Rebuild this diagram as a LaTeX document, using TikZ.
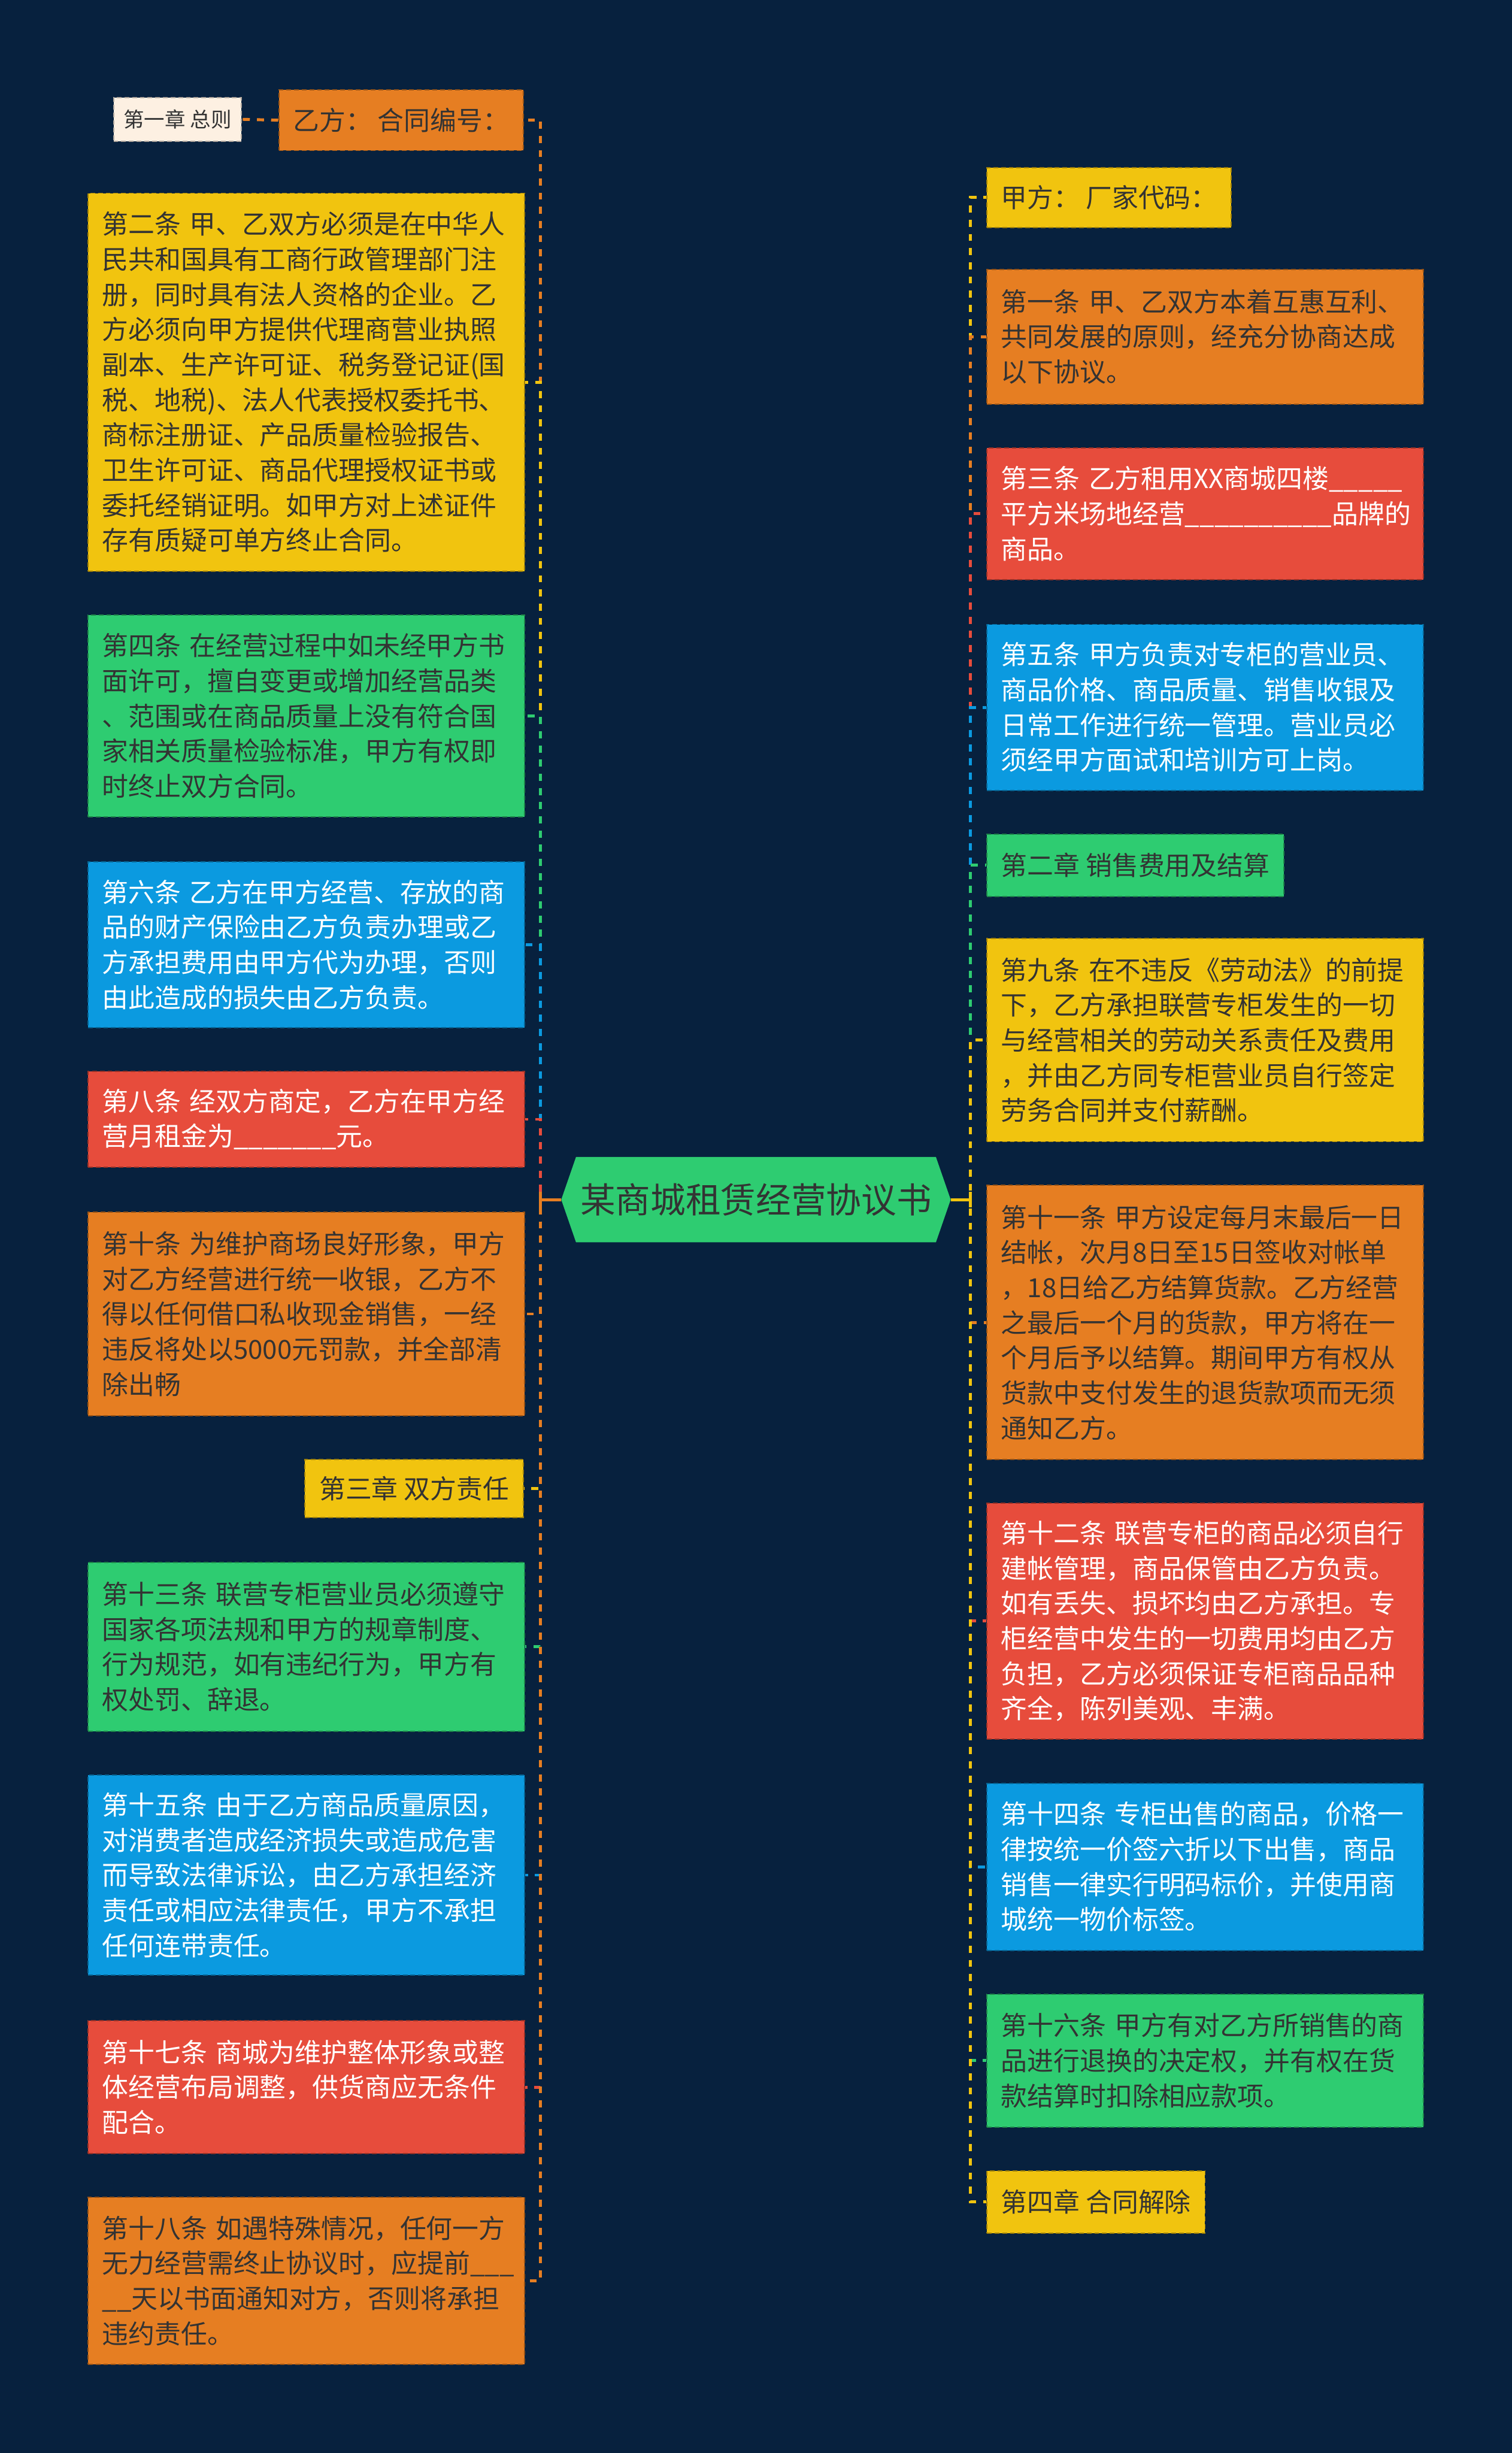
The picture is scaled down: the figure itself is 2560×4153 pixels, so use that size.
\documentclass[tikz,border=0pt]{standalone}
\usepackage{fontspec}
\newfontfamily\cjk{Noto Sans CJK SC}
\usetikzlibrary{backgrounds}
\definecolor{bg}{HTML}{07213E}
\definecolor{cy}{HTML}{F1C40F}
\definecolor{cg}{HTML}{2ECC71}
\definecolor{cb}{HTML}{0B9AE0}
\definecolor{cr}{HTML}{E74C3C}
\definecolor{co}{HTML}{E67E22}
\definecolor{cc}{HTML}{FDF0E2}
\definecolor{tx}{HTML}{333333}
\tikzset{
  base/.style={rectangle, font=\cjk\fontsize{44.5}{59.5}\selectfont, inner ysep=0pt,
    line width=2pt, dash pattern=on 8pt off 5pt},
  para/.style={base, text width=691pt, inner xsep=24pt, align=left, minimum height=#1},
  ttl/.style={base, inner xsep=24pt, minimum height=#1},
  fy/.style={fill=cy, draw=cy!65!black, text=tx},
  fo/.style={fill=co, draw=co!65!black, text=tx},
  fg/.style={fill=cg, draw=cg!65!black, text=tx},
  fb/.style={fill=cb, draw=cb!65!black, text=white},
  fr/.style={fill=cr, draw=cr!65!black, text=white},
  edge/.style={line width=5pt, dash pattern=on 12pt off 12pt},
  rootstub/.style={line width=5pt},
}
\begin{document}
\begin{tikzpicture}[x=1pt,y=-1pt]
\useasboundingbox (0,0) rectangle (2560,4153);
% root
\node[font=\cjk\fontsize{59.5}{70}\selectfont, text=tx, minimum width=609pt, minimum height=144pt, inner sep=0pt] (root) at (1280,2031) {某商城租赁经营协议书};
\coordinate (rl) at ([xshift=-25pt]root.west);
\coordinate (rr) at ([xshift=25pt]root.east);
\begin{scope}[on background layer]
\fill[bg] (0,0) rectangle (2560,4153);
\fill[cg] (root.north west) -- (root.north east) -- (rr) -- (root.south east) -- (root.south west) -- (rl) -- cycle;
\end{scope}

% left column
\node[ttl=103pt, fo, anchor=north east] (l1) at (887,151) {乙方：~合同编号：};
\node[base, font=\cjk\fontsize{35}{42}\selectfont, inner xsep=17pt, minimum height=74pt, fill=cc, draw=cc!70!black, text=tx, anchor=north east] (l0) at (410,164) {第一章~总则};
\node[para=640pt, fy, anchor=north west] (l2) at (148,326) {第二条~甲、乙双方必须是在中华人\\民共和国具有工商行政管理部门注\\册，同时具有法人资格的企业。乙\\方必须向甲方提供代理商营业执照\\副本、生产许可证、税务登记证(国\\税、地税)、法人代表授权委托书、\\商标注册证、产品质量检验报告、\\卫生许可证、商品代理授权证书或\\委托经销证明。如甲方对上述证件\\存有质疑可单方终止合同。};
\node[para=342pt, fg, anchor=north west] (l3) at (148,1040) {第四条~在经营过程中如未经甲方书\\面许可，擅自变更或增加经营品类\\、范围或在商品质量上没有符合国\\家相关质量检验标准，甲方有权即\\时终止双方合同。};
\node[para=281pt, fb, anchor=north west] (l4) at (148,1458) {第六条~乙方在甲方经营、存放的商\\品的财产保险由乙方负责办理或乙\\方承担费用由甲方代为办理，否则\\由此造成的损失由乙方负责。};
\node[para=162pt, fr, anchor=north west] (l5) at (148,1813) {第八条~经双方商定，乙方在甲方经\\营月租金为\_\_\_\_\_\_\_元。};
\node[para=345pt, fo, anchor=north west] (l6) at (148,2051) {第十条~为维护商场良好形象，甲方\\对乙方经营进行统一收银，乙方不\\得以任何借口私收现金销售，一经\\违反将处以5000元罚款，并全部清\\除出畅};
\node[ttl=98pt, fy, anchor=north east] (l7) at (887,2470) {第三章~双方责任};
\node[para=286pt, fg, anchor=north west] (l8) at (148,2644) {第十三条~联营专柜营业员必须遵守\\国家各项法规和甲方的规章制度、\\行为规范，如有违纪行为，甲方有\\权处罚、辞退。};
\node[para=339pt, fb, anchor=north west] (l9) at (148,3004) {第十五条~由于乙方商品质量原因，\\对消费者造成经济损失或造成危害\\而导致法律诉讼，由乙方承担经济\\责任或相应法律责任，甲方不承担\\任何连带责任。};
\node[para=225pt, fr, anchor=north west] (l10) at (148,3420) {第十七条~商城为维护整体形象或整\\体经营布局调整，供货商应无条件\\配合。};
\node[para=283pt, fo, anchor=north west] (l11) at (148,3719) {第十八条~如遇特殊情况，任何一方\\无力经营需终止协议时，应提前\_\_\_\\\_\_天以书面通知对方，否则将承担\\违约责任。};

% right column
\node[ttl=101pt, fy, anchor=north west] (r1) at (1670,283) {甲方：~厂家代码：};
\node[para=228pt, fo, anchor=north west] (r2) at (1670,455) {第一条~甲、乙双方本着互惠互利、\\共同发展的原则，经充分协商达成\\以下协议。};
\node[para=223pt, fr, anchor=north west] (r3) at (1670,757) {第三条~乙方租用XX商城四楼\_\_\_\_\_\\平方米场地经营\_\_\_\_\_\_\_\_\_\_品牌的\\商品。};
\node[para=281pt, fb, anchor=north west] (r4) at (1670,1056) {第五条~甲方负责对专柜的营业员、\\商品价格、商品质量、销售收银及\\日常工作进行统一管理。营业员必\\须经甲方面试和培训方可上岗。};
\node[ttl=106pt, fg, anchor=north west] (r5) at (1670,1411) {第二章~销售费用及结算};
\node[para=344pt, fy, anchor=north west] (r6) at (1670,1588) {第九条~在不违反《劳动法》的前提\\下，乙方承担联营专柜发生的一切\\与经营相关的劳动关系责任及费用\\，并由乙方同专柜营业员自行签定\\劳务合同并支付薪酬。};
\node[para=464pt, fo, anchor=north west] (r7) at (1670,2006) {第十一条~甲方设定每月末最后一日\\结帐，次月8日至15日签收对帐单\\，18日给乙方结算货款。乙方经营\\之最后一个月的货款，甲方将在一\\个月后予以结算。期间甲方有权从\\货款中支付发生的退货款项而无须\\通知乙方。};
\node[para=399pt, fr, anchor=north west] (r8) at (1670,2544) {第十二条~联营专柜的商品必须自行\\建帐管理，商品保管由乙方负责。\\如有丢失、损坏均由乙方承担。专\\柜经营中发生的一切费用均由乙方\\负担，乙方必须保证专柜商品品种\\齐全，陈列美观、丰满。};
\node[para=283pt, fb, anchor=north west] (r9) at (1670,3018) {第十四条~专柜出售的商品，价格一\\律按统一价签六折以下出售，商品\\销售一律实行明码标价，并使用商\\城统一物价标签。};
\node[para=225pt, fg, anchor=north west] (r10) at (1670,3375) {第十六条~甲方有对乙方所销售的商\\品进行退换的决定权，并有权在货\\款结算时扣除相应款项。};
\node[ttl=106pt, fy, anchor=north west] (r11) at (1670,3674) {第四章~合同解除};

% connectors
\foreach \n/\c in {l1/co,l2/cy,l3/cg,l4/cb,l5/cr,l6/co,l7/cy,l8/cg,l9/cb,l10/cr,l11/co}
  \draw[edge,\c] (rl) -- ++(-35,0) |- (\n.east);
\foreach \n/\c in {r1/cy,r2/co,r3/cr,r4/cb,r5/cg,r6/cy,r7/co,r8/cr,r9/cb,r10/cg,r11/cy}
  \draw[edge,\c] (rr) -- ++(33,0) |- (\n.west);
\draw[edge,co] (l1.west) -- (l0.east);
\draw[rootstub,co] (rl) -- ++(-35,0);
\draw[rootstub,co] ([xshift=-35pt,yshift=-13pt]rl) -- ([xshift=-35pt,yshift=13pt]rl);
\draw[rootstub,cy] (rr) -- ++(33,0);
\draw[rootstub,cy] ([xshift=33pt,yshift=-13pt]rr) -- ([xshift=33pt,yshift=13pt]rr);
\end{tikzpicture}
\end{document}
